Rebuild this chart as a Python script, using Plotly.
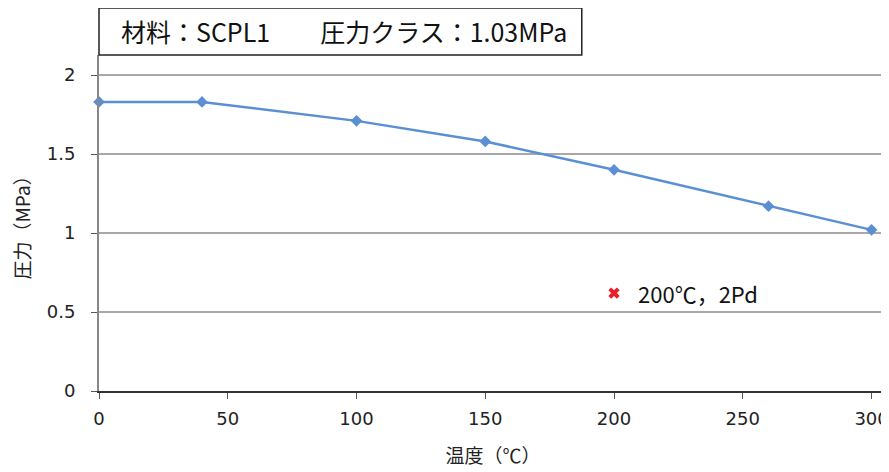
import plotly.graph_objects as go

temps = [0, 40, 100, 150, 200, 260, 300]
pressures = [1.83, 1.83, 1.71, 1.58, 1.40, 1.17, 1.02]
point_x = [200]
point_y = [0.62]
point_label = "200℃，2Pd"
title_text = "材料：SCPL1　　圧力クラス：1.03MPa"
x_ticks = [0, 50, 100, 150, 200, 250, 300]
y_ticks = [0, 0.5, 1, 1.5, 2]

# page body has an 8px margin; figure sized so the plot lands where the reference has it
W, H = 881, 464
L, R, T, B = 91, 0, 47, 81
PW, PH = W - L - R, H - T - B

fig = go.Figure()
fig.add_trace(go.Scatter(
    x=temps, y=pressures, mode="lines+markers",
    line=dict(color="#5b8fd4", width=2.5),
    marker=dict(symbol="diamond", size=9, color="#5b8fd4"),
    showlegend=False, cliponaxis=False))
fig.add_trace(go.Scatter(
    x=point_x, y=point_y, mode="markers",
    marker=dict(symbol="x", size=10, color="#e8202a", line=dict(width=0)),
    showlegend=False))
fig.add_annotation(x=point_x[0], y=point_y[0], text=point_label, xref="x", yref="y",
                   xanchor="left", yanchor="middle", xshift=22, showarrow=False,
                   font=dict(family="Noto Sans CJK JP", size=22, color="#111"))

# title box
fig.add_shape(type="rect", xref="paper", yref="paper", x0=0, x1=484/PW, y0=1.0, y1=1+47/PH,
              line=dict(color="#222", width=1.5), fillcolor="white")
fig.add_annotation(xref="paper", yref="paper", x=20/PW, y=1+24/PH, text=title_text,
                   showarrow=False, xanchor="left", yanchor="middle",
                   font=dict(family="Noto Sans CJK JP", size=25, color="#111"))

fig.update_layout(
    width=W, height=H,
    margin=dict(l=L, r=R, t=T, b=B),
    plot_bgcolor="white", paper_bgcolor="white",
    font=dict(family="DejaVu Sans", size=18, color="#222"),
)
fig.update_xaxes(range=[0, 306], tickvals=x_ticks, showgrid=False,
                 showline=True, linecolor="#333", linewidth=2,
                 ticks="outside", ticklen=6, tickcolor="#555", ticklabelstandoff=4,
                 ticklabeloverflow="allow",
                 title=dict(text="温度（℃）", font=dict(family="Noto Sans CJK JP", size=19), standoff=22),
                 zeroline=False)
fig.update_yaxes(range=[0, 2.127], tickvals=y_ticks, ticktext=["0", "0.5", "1", "1.5", "2"],
                 showgrid=True, gridcolor="#a8a8a8", gridwidth=1.5,
                 showline=True, linecolor="#888", linewidth=2,
                 ticks="outside", ticklen=6, tickcolor="#555", ticklabelstandoff=12,
                 title=dict(text="圧力（MPa）", font=dict(family="Noto Sans CJK JP", size=19), standoff=18),
                 zeroline=False)

fig.write_html("out.html")
